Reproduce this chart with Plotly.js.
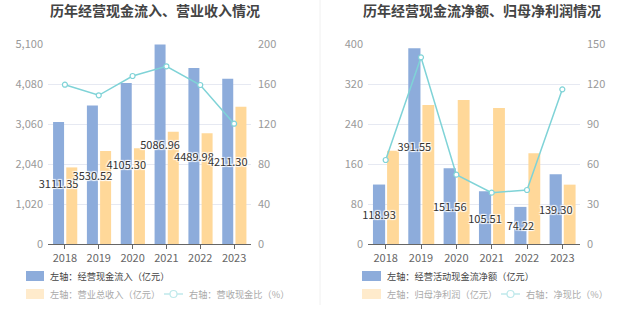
<!DOCTYPE html>
<html><head><meta charset="utf-8">
<script src="https://cdn.plot.ly/plotly-3.0.1.min.js"></script>
<style>html,body{margin:0;padding:0;background:#fff}#chart{width:637px;height:327px}</style>
</head><body><div id="chart"></div>
<script>
const years = ['2018','2019','2020','2021','2022','2023'];
// Left chart
const cashInflow = [3111.35, 3530.52, 4105.30, 5086.96, 4489.98, 4211.30];
const revenue = [1953, 2374, 2443, 2863, 2824, 3500];
const inflowRatio = [159.3, 148.7, 168.0, 177.7, 159.0, 120.3];
// Right chart
const netCash = [118.93, 391.55, 151.56, 105.51, 74.22, 139.30];
const netProfit = [186.7, 278, 288, 272, 181.3, 118.7];
const netRatio = [63, 140, 52, 38.5, 40.5, 116];

const leftTicks = [0, 1020, 2040, 3060, 4080, 5100];
const rightTicks1 = [0, 40, 80, 120, 160, 200];
const leftTicks2 = [0, 80, 160, 240, 320, 400];
const rightTicks2 = [0, 30, 60, 90, 120, 150];

const BLUE = '#8dacdb', ORANGE = '#ffd899', TEAL = '#7fd3d7';
const FONT = 'Noto Sans CJK SC, sans-serif';
const W = 637, H = 327;
const px = x => x / W, py = y => 1 - y / H;

const labelFont = {family: FONT, size: 11, color: '#333', shadow: '1px 1px 1px #fff, -1px -1px 1px #fff, 1px -1px 1px #fff, -1px 1px 1px #fff'};

function barTrace(x, y, color, xa, ya, offset, width, withText) {
  const t = {type: 'bar', x: x, y: y, xaxis: xa, yaxis: ya, offset: offset, width: width,
    marker: {color: color, line: {width: 0}}, showlegend: false, hoverinfo: 'skip', cliponaxis: false};
  if (withText) {
    t.texttemplate = '%{y:.2f}';
    t.textposition = 'inside';
    t.insidetextanchor = 'middle';
    t.constraintext = 'none';
    t.textangle = 0;
    t.insidetextfont = labelFont;
  }
  return t;
}
function lineTrace(x, y, xa, ya) {
  return {type: 'scatter', mode: 'lines+markers', x: x, y: y, xaxis: xa, yaxis: ya,
    line: {color: TEAL, width: 1.5}, marker: {symbol: 'circle', size: 5, color: '#fff', line: {color: TEAL, width: 1.2}},
    showlegend: false, hoverinfo: 'skip', cliponaxis: false};
}

const data = [
  barTrace(years, revenue, ORANGE, 'x', 'y', 0.04, 0.325, false),
  barTrace(years, cashInflow, BLUE, 'x', 'y', -0.35, 0.325, true),
  lineTrace(years, inflowRatio, 'x', 'y2'),
  barTrace(years, netProfit, ORANGE, 'x2', 'y3', 0.04, 0.335, false),
  barTrace(years, netCash, BLUE, 'x2', 'y3', -0.36, 0.345, true),
  lineTrace(years, netRatio, 'x2', 'y4'),
];

const yDom = [py(244), py(44)];
const tickFont = {family: FONT, size: 11, color: '#999'};
const xTickFont = {family: FONT, size: 11, color: '#666'};

function xaxis(dom, anchor) {
  return {domain: dom, anchor: anchor, type: 'category', showline: true, linecolor: '#666', linewidth: 1,
    ticks: 'outside', ticklen: 4, tickcolor: '#666', tickfont: xTickFont, showgrid: false, zeroline: false, fixedrange: true};
}
function yleft(ticks, anchor) {
  return {domain: yDom, anchor: anchor, range: [0, ticks[ticks.length-1]], tickvals: ticks, tickformat: ',', tickfont: tickFont,
    showgrid: true, gridcolor: '#e6e9f2', gridwidth: 1, zeroline: false, showline: false, ticks: '', ticklabelstandoff: 4};
}
function yright(ticks, overlay, anchor) {
  return {domain: yDom, overlaying: overlay, anchor: anchor, side: 'right', range: [0, ticks[ticks.length-1]], tickvals: ticks,
    tickfont: tickFont, showgrid: false, zeroline: false, showline: false, ticks: '', ticklabelstandoff: 6};
}

const LG = 9.2;
const layout = {
  width: W, height: H, margin: {l: 0, r: 0, t: 0, b: 0}, paper_bgcolor: '#fff', plot_bgcolor: 'rgba(0,0,0,0)',
  font: {family: FONT}, barmode: 'overlay', showlegend: false,
  xaxis: xaxis([px(48), px(251)], 'y'),
  yaxis: yleft(leftTicks, 'x'),
  yaxis2: yright(rightTicks1, 'y', 'x'),
  xaxis2: xaxis([px(368), px(580)], 'y3'),
  yaxis3: yleft(leftTicks2, 'x2'),
  yaxis4: yright(rightTicks2, 'y3', 'x2'),
  shapes: [
    {type: 'line', xref: 'paper', yref: 'paper', x0: px(320), x1: px(320), y0: py(0), y1: py(305), line: {color: '#f0f0f0', width: 1}},
    {type: 'rect', xref: 'paper', yref: 'paper', x0: px(26), x1: px(44), y0: py(281), y1: py(271), fillcolor: BLUE, line: {width: 0}},
    {type: 'rect', xref: 'paper', yref: 'paper', x0: px(26), x1: px(44), y0: py(299), y1: py(289), fillcolor: '#ffebcc', line: {width: 0}},
    {type: 'line', xref: 'paper', yref: 'paper', x0: px(164), x1: px(183), y0: py(294), y1: py(294), line: {color: '#bfe9eb', width: 1.5}},
    {type: 'circle', xref: 'paper', yref: 'paper', x0: px(170), x1: px(177), y0: py(297.5), y1: py(290.5), fillcolor: '#fff', line: {color: '#bfe9eb', width: 1.2}},
    {type: 'rect', xref: 'paper', yref: 'paper', x0: px(362), x1: px(381), y0: py(281), y1: py(271), fillcolor: BLUE, line: {width: 0}},
    {type: 'rect', xref: 'paper', yref: 'paper', x0: px(362), x1: px(381), y0: py(299), y1: py(289), fillcolor: '#ffebcc', line: {width: 0}},
    {type: 'line', xref: 'paper', yref: 'paper', x0: px(501), x1: px(520), y0: py(294), y1: py(294), line: {color: '#bfe9eb', width: 1.5}},
    {type: 'circle', xref: 'paper', yref: 'paper', x0: px(507), x1: px(514), y0: py(297.5), y1: py(290.5), fillcolor: '#fff', line: {color: '#bfe9eb', width: 1.2}},
  ],
  annotations: [
    {text: '<b>历年经营现金流入、营业收入情况</b>', xref: 'paper', yref: 'paper', x: px(155), y: py(10), xanchor: 'center', yanchor: 'middle', showarrow: false, font: {family: FONT, size: 14, color: '#444'}},
    {text: '<b>历年经营现金流净额、归母净利润情况</b>', xref: 'paper', yref: 'paper', x: px(482), y: py(10), xanchor: 'center', yanchor: 'middle', showarrow: false, font: {family: FONT, size: 14, color: '#444'}},
    {text: '左轴：经营现金流入（亿元）', xref: 'paper', yref: 'paper', x: px(48), y: py(276), xanchor: 'left', yanchor: 'middle', showarrow: false, font: {family: FONT, size: LG, color: '#444'}},
    {text: '左轴：营业总收入（亿元）', xref: 'paper', yref: 'paper', x: px(48), y: py(294), xanchor: 'left', yanchor: 'middle', showarrow: false, font: {family: FONT, size: LG, color: '#aaa'}},
    {text: '右轴：营收现金比（%）', xref: 'paper', yref: 'paper', x: px(187), y: py(294), xanchor: 'left', yanchor: 'middle', showarrow: false, font: {family: FONT, size: LG, color: '#aaa'}},
    {text: '左轴：经营活动现金流净额（亿元）', xref: 'paper', yref: 'paper', x: px(385), y: py(276), xanchor: 'left', yanchor: 'middle', showarrow: false, font: {family: FONT, size: LG, color: '#444'}},
    {text: '左轴：归母净利润（亿元）', xref: 'paper', yref: 'paper', x: px(385), y: py(294), xanchor: 'left', yanchor: 'middle', showarrow: false, font: {family: FONT, size: LG, color: '#aaa'}},
    {text: '右轴：净现比（%）', xref: 'paper', yref: 'paper', x: px(524), y: py(294), xanchor: 'left', yanchor: 'middle', showarrow: false, font: {family: FONT, size: LG, color: '#aaa'}},
  ]
};

Plotly.newPlot('chart', data, layout, {staticPlot: true, displayModeBar: false});
</script>
</body></html>
